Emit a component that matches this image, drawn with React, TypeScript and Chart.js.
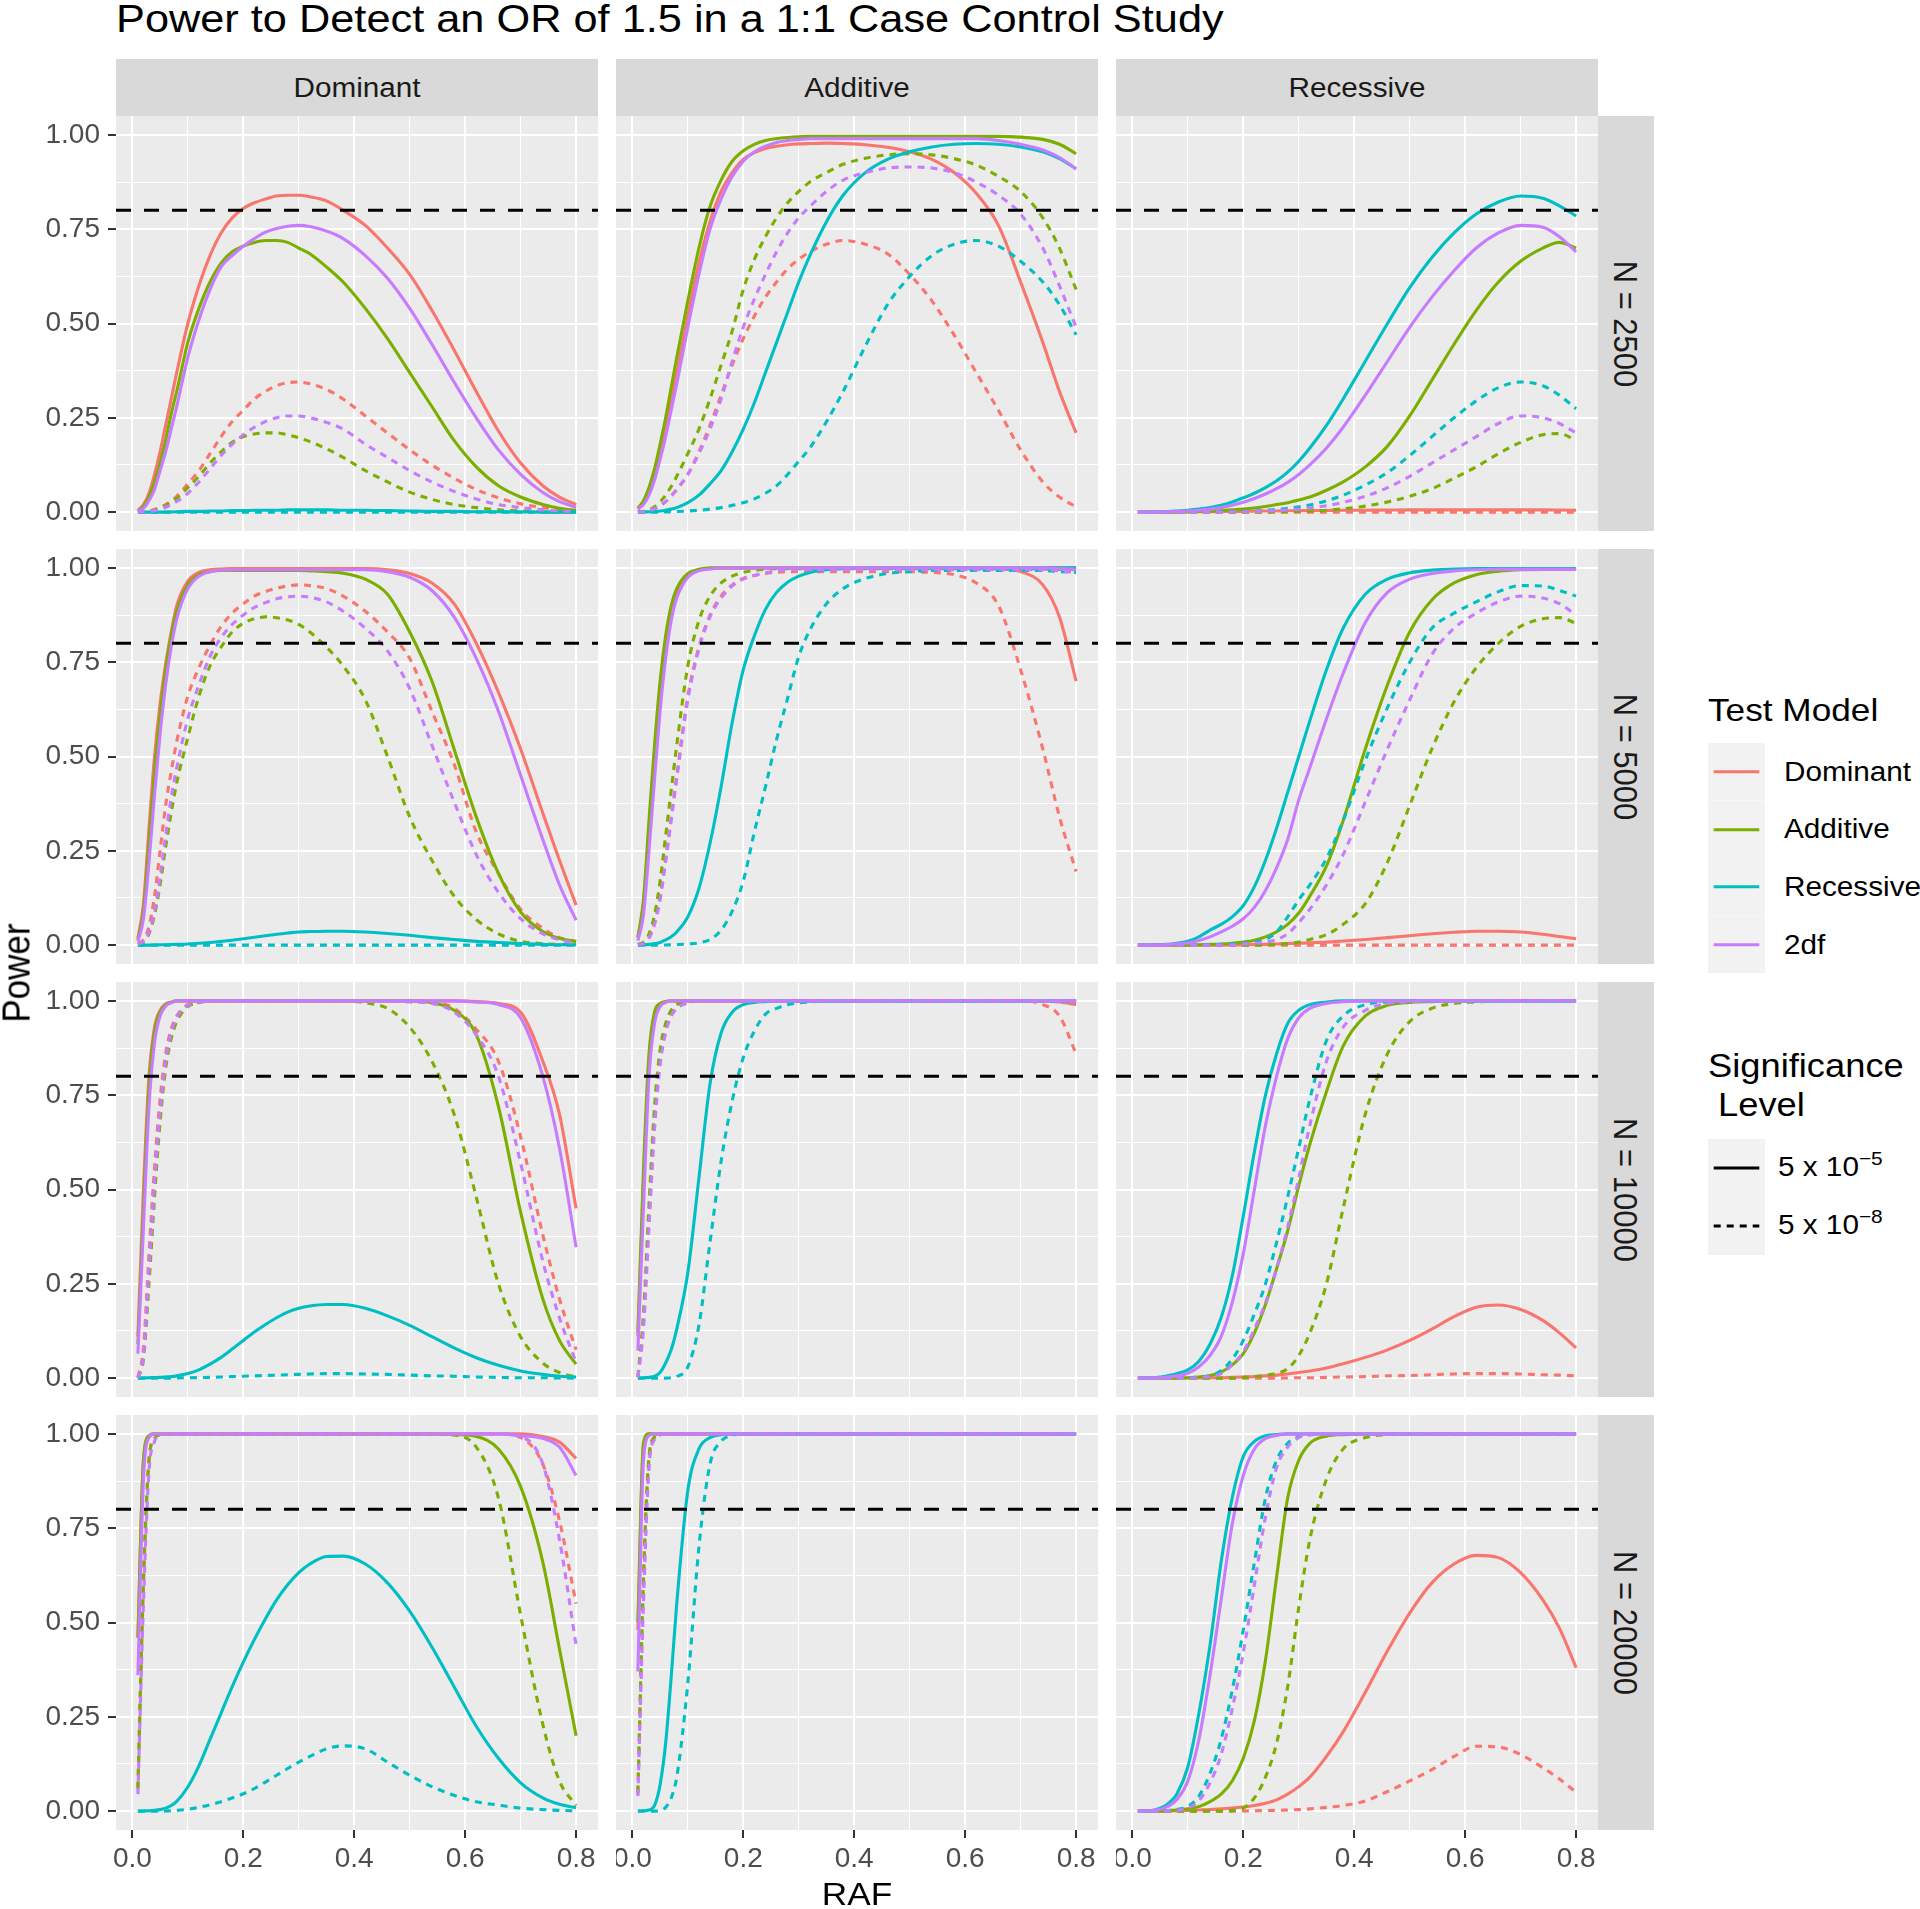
import React, { useEffect, useRef } from "react";
import { Chart, registerables } from "chart.js";

Chart.register(...registerables);

const FONT = "'Liberation Sans', Arial, Helvetica, sans-serif";

// ---------- categories / ticks ----------
const RAF = [0.01,0.02,0.03,0.04,0.05,0.06,0.07,0.08, 0.10,0.12,0.14,0.16,0.18,0.20,0.22,0.24,0.26,0.28,0.30,0.32, 0.35,0.38, 0.42,0.46,0.50,0.54,0.58,0.62,0.66,0.70,0.74, 0.77,0.80];
const TRUE_MODELS = ["Dominant", "Additive", "Recessive"];
const SAMPLE_SIZES = ["N = 2500", "N = 5000", "N = 10000", "N = 20000"];
const TEST_MODELS = ["Dominant", "Additive", "Recessive", "2df"];
const TEST_COLORS = ["#F8766D", "#7CAE00", "#00BFC4", "#C77CFF"];
const SIG_LEVELS = ["5e-5", "5e-8"];
const POWER_TARGET = 0.8;
const X_MAJOR = [0, 0.2, 0.4, 0.6, 0.8];
const X_MINOR = [0.1, 0.3, 0.5, 0.7];
const Y_MAJOR = [0, 0.25, 0.5, 0.75, 1];
const Y_MINOR = [0.125, 0.375, 0.625, 0.875];
const X_RANGE = [-0.0295, 0.8395];
const Y_RANGE = [-0.05, 1.05];

// ---------- N = 2500, true model Dominant ----------
const n2500_dom_domS = [0.005,0.02,0.05,0.10,0.16,0.23,0.30,0.37, 0.50,0.60,0.68,0.74,0.78,0.805,0.82,0.83,0.838,0.84,0.84,0.836, 0.825,0.80, 0.76,0.70,0.63,0.535,0.43,0.32,0.215,0.13,0.07, 0.04,0.02];
const n2500_dom_addS = [0.004,0.015,0.04,0.08,0.13,0.19,0.26,0.32, 0.45,0.54,0.61,0.66,0.69,0.705,0.715,0.72,0.72,0.715,0.70,0.685, 0.65,0.61, 0.54,0.46,0.37,0.28,0.19,0.12,0.07,0.04,0.02, 0.01,0.005];
const n2500_dom_recS = [0,0,0,0,0,0,0.0005,0.001, 0.002,0.002,0.003,0.003,0.004,0.004,0.005,0.005,0.005,0.006,0.006,0.006, 0.006,0.005, 0.005,0.004,0.003,0.002,0.002,0.001,0.001,0.0005,0, 0,0];
const n2500_dom_df2S = [0.003,0.01,0.03,0.06,0.11,0.16,0.22,0.28, 0.41,0.51,0.59,0.65,0.68,0.705,0.725,0.742,0.752,0.758,0.76,0.757, 0.745,0.725, 0.68,0.62,0.54,0.445,0.345,0.25,0.165,0.10,0.052, 0.028,0.013];
const n2500_dom_domD = [0,0.001,0.003,0.007,0.013,0.02,0.03,0.042, 0.075,0.11,0.155,0.20,0.24,0.27,0.30,0.32,0.335,0.343,0.345,0.34, 0.325,0.30, 0.255,0.21,0.165,0.125,0.09,0.06,0.038,0.022,0.012, 0.006,0.003];
const n2500_dom_addD = [0,0.001,0.003,0.006,0.011,0.018,0.027,0.037, 0.065,0.095,0.13,0.16,0.185,0.20,0.207,0.21,0.21,0.205,0.197,0.187, 0.168,0.145, 0.11,0.08,0.053,0.034,0.02,0.012,0.006,0.003,0.001, 0,0];
const n2500_dom_recD = [0,0,0,0,0,0,0,0, 0,0,0,0,0,0,0,0,0,0,0,0, 0,0, 0,0,0,0,0,0,0,0,0, 0,0];
const n2500_dom_df2D = [0,0.001,0.002,0.004,0.008,0.013,0.02,0.028, 0.05,0.08,0.115,0.15,0.18,0.205,0.225,0.24,0.25,0.255,0.255,0.25, 0.238,0.22, 0.18,0.145,0.11,0.08,0.055,0.035,0.02,0.012,0.006, 0.003,0.002];

// ---------- N = 2500, true model Additive ----------
const n2500_add_domS = [0.008,0.025,0.055,0.10,0.16,0.23,0.30,0.37, 0.52,0.66,0.77,0.85,0.90,0.935,0.953,0.964,0.97,0.974,0.976,0.977, 0.978,0.977, 0.974,0.967,0.955,0.935,0.90,0.845,0.76,0.61,0.45, 0.32,0.21];
const n2500_add_addS = [0.01,0.03,0.065,0.115,0.18,0.25,0.33,0.41, 0.56,0.70,0.81,0.88,0.93,0.958,0.975,0.985,0.99,0.993,0.995,0.996, 0.996,0.996, 0.996,0.996,0.996,0.996,0.996,0.996,0.996,0.994,0.988, 0.975,0.95];
const n2500_add_recS = [0,0.0005,0.001,0.002,0.003,0.005,0.008,0.012, 0.025,0.045,0.075,0.11,0.16,0.22,0.29,0.37,0.45,0.53,0.61,0.68, 0.77,0.84, 0.90,0.935,0.955,0.968,0.975,0.977,0.975,0.968,0.955, 0.937,0.91];
const n2500_add_df2S = [0.008,0.02,0.045,0.085,0.14,0.20,0.27,0.34, 0.49,0.63,0.75,0.83,0.89,0.93,0.955,0.97,0.98,0.985,0.988,0.99, 0.99,0.99, 0.99,0.99,0.99,0.99,0.99,0.99,0.985,0.975,0.96, 0.94,0.91];
const n2500_add_domD = [0,0.001,0.004,0.009,0.017,0.028,0.043,0.06, 0.10,0.16,0.23,0.31,0.39,0.46,0.52,0.57,0.61,0.645,0.67,0.69, 0.71,0.72, 0.71,0.685,0.63,0.56,0.47,0.37,0.27,0.165,0.08, 0.04,0.014];
const n2500_add_addD = [0,0.002,0.006,0.014,0.027,0.045,0.068,0.095, 0.155,0.22,0.30,0.39,0.48,0.59,0.67,0.73,0.78,0.82,0.85,0.875, 0.90,0.922, 0.938,0.947,0.95,0.947,0.937,0.92,0.89,0.85,0.78, 0.70,0.59];
const n2500_add_recD = [0,0,0,0,0,0.0005,0.001,0.0015, 0.003,0.005,0.008,0.012,0.018,0.025,0.035,0.05,0.07,0.10,0.135,0.17, 0.24,0.32, 0.44,0.55,0.625,0.68,0.71,0.72,0.705,0.665,0.61, 0.55,0.47];
const n2500_add_df2D = [0,0.001,0.004,0.009,0.017,0.028,0.042,0.06, 0.10,0.155,0.22,0.30,0.40,0.49,0.565,0.63,0.69,0.74,0.78,0.81, 0.85,0.88, 0.90,0.912,0.915,0.912,0.90,0.875,0.84,0.79,0.70, 0.60,0.49];

// ---------- N = 2500, true model Recessive ----------
const n2500_rec_domS = [0,0,0,0,0,0,0,0, 0.0005,0.001,0.001,0.0015,0.002,0.002,0.0025,0.003,0.003,0.0035,0.004,0.004, 0.0045,0.005, 0.005,0.0055,0.006,0.006,0.006,0.006,0.006,0.006,0.006, 0.0055,0.005];
const n2500_rec_addS = [0,0,0,0,0,0,0,0, 0.001,0.002,0.003,0.004,0.006,0.008,0.011,0.015,0.02,0.025,0.032,0.04, 0.058,0.08, 0.12,0.175,0.255,0.35,0.445,0.535,0.61,0.665,0.70, 0.715,0.70];
const n2500_rec_recS = [0,0,0,0.0005,0.001,0.0015,0.002,0.003, 0.005,0.008,0.012,0.018,0.027,0.038,0.05,0.065,0.083,0.106,0.135,0.17, 0.23,0.30, 0.40,0.50,0.595,0.675,0.74,0.79,0.822,0.838,0.832, 0.812,0.785];
const n2500_rec_df2S = [0,0,0,0,0.0005,0.001,0.0015,0.002, 0.003,0.005,0.008,0.012,0.018,0.026,0.036,0.048,0.062,0.079,0.10,0.125, 0.17,0.225, 0.31,0.40,0.49,0.57,0.64,0.70,0.74,0.76,0.755, 0.73,0.69];
const n2500_rec_domD = [0,0,0,0,0,0,0,0, 0,0,0,0,0,0,0,0,0,0,0,0, 0,0, 0,0,0,0,0,0,0,0,0, 0,0];
const n2500_rec_addD = [0,0,0,0,0,0,0,0, 0,0,0,0,0,0,0,0,0.001,0.001,0.002,0.003, 0.005,0.009, 0.016,0.027,0.042,0.062,0.09,0.12,0.155,0.185,0.205, 0.208,0.19];
const n2500_rec_recD = [0,0,0,0,0,0,0,0, 0,0,0,0.001,0.001,0.002,0.003,0.005,0.007,0.01,0.014,0.019, 0.03,0.045, 0.072,0.105,0.15,0.20,0.25,0.295,0.33,0.345,0.335, 0.31,0.274];
const n2500_rec_df2D = [0,0,0,0,0,0,0,0, 0,0,0,0,0.001,0.001,0.002,0.003,0.004,0.006,0.008,0.011, 0.017,0.026, 0.042,0.065,0.095,0.13,0.165,0.20,0.235,0.255,0.25, 0.235,0.21];

// ---------- N = 5000, true model Dominant ----------
const n5000_dom_domS = [0.018,0.11,0.31,0.50,0.64,0.745,0.83,0.90, 0.965,0.988,0.995,0.997,0.998,0.998,0.998,0.998,0.998,0.998,0.998,0.998, 0.998,0.998, 0.998,0.995,0.985,0.96,0.905,0.80,0.67,0.52,0.35, 0.225,0.106];
const n5000_dom_addS = [0.015,0.09,0.27,0.46,0.61,0.73,0.82,0.885, 0.955,0.982,0.99,0.993,0.993,0.993,0.993,0.993,0.993,0.993,0.993,0.992, 0.99,0.986, 0.97,0.93,0.83,0.70,0.52,0.34,0.19,0.088,0.036, 0.018,0.009];
const n5000_dom_recS = [0,0,0,0.0005,0.001,0.001,0.0015,0.002, 0.003,0.005,0.007,0.01,0.013,0.017,0.021,0.025,0.029,0.032,0.035,0.036, 0.037,0.037, 0.035,0.031,0.026,0.02,0.015,0.01,0.007,0.004,0.002, 0.001,0.001];
const n5000_dom_df2S = [0.01,0.07,0.22,0.40,0.56,0.69,0.79,0.865, 0.945,0.978,0.99,0.994,0.995,0.995,0.995,0.995,0.995,0.995,0.995,0.995, 0.995,0.995, 0.995,0.99,0.975,0.94,0.87,0.76,0.62,0.45,0.28, 0.16,0.066];
const n5000_dom_domD = [0.005,0.015,0.05,0.13,0.25,0.37,0.46,0.54, 0.66,0.735,0.795,0.845,0.88,0.905,0.925,0.937,0.946,0.952,0.955,0.953, 0.945,0.925, 0.885,0.83,0.76,0.62,0.48,0.30,0.19,0.095,0.045, 0.02,0.01];
const n5000_dom_addD = [0.002,0.008,0.03,0.08,0.16,0.26,0.35,0.43, 0.55,0.66,0.74,0.79,0.83,0.853,0.865,0.87,0.868,0.862,0.85,0.83, 0.79,0.74, 0.65,0.50,0.34,0.225,0.13,0.068,0.03,0.01,0.004, 0.002,0.001];
const n5000_dom_recD = [0,0,0,0,0,0,0,0, 0,0,0,0,0,0,0,0,0,0,0,0, 0,0, 0,0,0,0,0,0,0,0,0, 0,0];
const n5000_dom_df2D = [0.003,0.01,0.035,0.09,0.18,0.29,0.39,0.47, 0.60,0.69,0.765,0.815,0.85,0.875,0.895,0.908,0.918,0.923,0.925,0.922, 0.91,0.885, 0.84,0.78,0.68,0.53,0.38,0.24,0.14,0.07,0.03, 0.014,0.006];

// ---------- N = 5000, true model Additive ----------
const n5000_add_domS = [0.02,0.11,0.31,0.51,0.68,0.80,0.885,0.935, 0.98,0.994,0.998,1,1,1,1,1,1,1,1,1, 1,1, 1,1,1,1,1,1,0.997,0.99,0.955, 0.87,0.70];
const n5000_add_addS = [0.02,0.12,0.33,0.53,0.70,0.82,0.90,0.945, 0.985,0.996,1,1,1,1,1,1,1,1,1,1, 1,1, 1,1,1,1,1,1,1,1,1, 1,1];
const n5000_add_recS = [0,0.001,0.002,0.004,0.007,0.014,0.022,0.035, 0.075,0.15,0.27,0.42,0.59,0.73,0.82,0.89,0.935,0.962,0.978,0.988, 0.995,0.998, 1,1,1,1,1,1,1,1,1, 1,1];
const n5000_add_df2S = [0.012,0.08,0.25,0.44,0.62,0.76,0.86,0.92, 0.975,0.992,0.997,1,1,1,1,1,1,1,1,1, 1,1, 1,1,1,1,1,1,1,1,1, 0.998,0.996];
const n5000_add_domD = [0.001,0.005,0.02,0.06,0.13,0.23,0.34,0.45, 0.66,0.79,0.875,0.925,0.955,0.972,0.98,0.985,0.988,0.99,0.99,0.99, 0.99,0.99, 0.99,0.99,0.99,0.988,0.982,0.96,0.90,0.73,0.52, 0.34,0.195];
const n5000_add_addD = [0.002,0.008,0.03,0.08,0.17,0.29,0.41,0.53, 0.74,0.86,0.925,0.96,0.978,0.988,0.993,0.996,0.998,0.998,0.998,0.998, 0.998,0.998, 0.998,0.998,0.998,0.998,0.998,0.998,0.998,0.998,0.997, 0.996,0.995];
const n5000_add_recD = [0,0,0,0,0,0.0005,0.001,0.0015, 0.003,0.006,0.015,0.04,0.09,0.17,0.30,0.42,0.545,0.655,0.765,0.835, 0.905,0.945, 0.972,0.985,0.99,0.993,0.993,0.993,0.993,0.993,0.993, 0.99,0.988];
const n5000_add_df2D = [0.001,0.004,0.018,0.055,0.12,0.22,0.33,0.44, 0.65,0.785,0.87,0.92,0.952,0.97,0.98,0.987,0.99,0.995,0.995,0.995, 0.995,0.995, 0.995,0.995,0.995,0.995,0.995,0.995,0.995,0.995,0.995, 0.992,0.988];

// ---------- N = 5000, true model Recessive ----------
const n5000_rec_domS = [0,0,0,0,0,0,0,0, 0,0,0,0,0.0005,0.001,0.0015,0.002,0.003,0.004,0.005,0.006, 0.008,0.011, 0.015,0.02,0.025,0.03,0.034,0.037,0.037,0.035,0.029, 0.023,0.017];
const n5000_rec_addS = [0,0,0,0,0,0,0,0, 0,0.001,0.002,0.003,0.005,0.008,0.013,0.022,0.035,0.055,0.085,0.13, 0.21,0.33, 0.52,0.69,0.83,0.915,0.96,0.982,0.991,0.995,0.996, 0.996,0.996];
const n5000_rec_recS = [0,0,0,0.0005,0.001,0.002,0.003,0.005, 0.01,0.022,0.04,0.055,0.075,0.105,0.155,0.225,0.31,0.405,0.50,0.595, 0.73,0.84, 0.93,0.97,0.987,0.994,0.997,0.998,0.998,0.998,0.998, 0.998,0.998];
const n5000_rec_df2S = [0,0,0,0,0,0.001,0.002,0.003, 0.006,0.012,0.022,0.035,0.05,0.07,0.10,0.145,0.205,0.28,0.385,0.47, 0.60,0.72, 0.855,0.935,0.97,0.985,0.992,0.995,0.996,0.996,0.996, 0.996,0.996];
const n5000_rec_domD = [0,0,0,0,0,0,0,0, 0,0,0,0,0,0,0,0,0,0,0,0, 0,0, 0,0,0,0,0,0,0,0,0, 0,0];
const n5000_rec_addD = [0,0,0,0,0,0,0,0, 0,0,0,0,0,0,0,0.001,0.002,0.004,0.008,0.015, 0.028,0.055, 0.11,0.22,0.37,0.52,0.645,0.735,0.80,0.845,0.865, 0.868,0.853];
const n5000_rec_recD = [0,0,0,0,0,0,0,0, 0,0.0005,0.001,0.002,0.003,0.005,0.008,0.015,0.035,0.075,0.12,0.16, 0.23,0.33, 0.49,0.63,0.75,0.84,0.88,0.91,0.937,0.953,0.952, 0.94,0.925];
const n5000_rec_df2D = [0,0,0,0,0,0,0,0, 0,0,0,0,0,0.003,0.005,0.008,0.015,0.03,0.06,0.095, 0.16,0.24, 0.38,0.52,0.65,0.77,0.84,0.88,0.91,0.925,0.92, 0.905,0.875];

// ---------- N = 10000, true model Dominant ----------
const n10000_dom_domS = [0.11,0.50,0.80,0.93,0.975,0.992,0.997,1, 1,1,1,1,1,1,1,1,1,1,1,1, 1,1, 1,1,1,1,1,0.998,0.993,0.97,0.84, 0.70,0.45];
const n10000_dom_addS = [0.09,0.45,0.77,0.92,0.97,0.99,0.996,1, 1,1,1,1,1,1,1,1,1,1,1,1, 1,1, 1,1,1,0.995,0.975,0.91,0.72,0.44,0.21, 0.10,0.037];
const n10000_dom_recS = [0,0.0005,0.001,0.0015,0.002,0.003,0.004,0.006, 0.012,0.022,0.037,0.055,0.077,0.10,0.122,0.142,0.16,0.175,0.185,0.191, 0.195,0.195, 0.185,0.165,0.14,0.11,0.08,0.054,0.034,0.019,0.01, 0.005,0.003];
const n10000_dom_df2S = [0.065,0.40,0.72,0.89,0.96,0.986,0.995,1, 1,1,1,1,1,1,1,1,1,1,1,1, 1,1, 1,1,1,1,1,0.997,0.99,0.955,0.80, 0.61,0.347];
const n10000_dom_domD = [0.002,0.08,0.33,0.56,0.74,0.86,0.925,0.96, 0.99,0.997,1,1,1,1,1,1,1,1,1,1, 1,1, 1,1,1,0.997,0.98,0.925,0.84,0.64,0.38, 0.21,0.075];
const n10000_dom_addD = [0.001,0.05,0.25,0.48,0.68,0.82,0.90,0.945, 0.985,0.995,1,1,1,1,1,1,1,1,1,1, 1,1, 0.995,0.98,0.93,0.84,0.70,0.48,0.25,0.11,0.04, 0.015,0.003];
const n10000_dom_recD = [0,0,0,0,0,0,0,0.0005, 0.001,0.0015,0.002,0.003,0.004,0.005,0.006,0.007,0.008,0.009,0.01,0.011, 0.012,0.012, 0.011,0.01,0.008,0.006,0.005,0.003,0.002,0.001,0.001, 0.0005,0];
const n10000_dom_df2D = [0.001,0.06,0.29,0.52,0.71,0.84,0.915,0.955, 0.988,0.996,1,1,1,1,1,1,1,1,1,1, 1,1, 1,1,0.997,0.993,0.97,0.91,0.80,0.57,0.31, 0.16,0.042];

// ---------- N = 10000, true model Additive ----------
const n10000_add_domS = [0.11,0.52,0.84,0.96,0.99,0.997,1,1, 1,1,1,1,1,1,1,1,1,1,1,1, 1,1, 1,1,1,1,1,1,1,1,1, 0.997,0.99];
const n10000_add_addS = [0.12,0.55,0.86,0.97,0.993,0.998,1,1, 1,1,1,1,1,1,1,1,1,1,1,1, 1,1, 1,1,1,1,1,1,1,1,1, 1,1];
const n10000_add_recS = [0,0.001,0.002,0.005,0.015,0.04,0.075,0.13, 0.28,0.53,0.78,0.915,0.97,0.99,0.996,0.998,1,1,1,1, 1,1, 1,1,1,1,1,1,1,1,1, 1,1];
const n10000_add_df2S = [0.073,0.45,0.80,0.94,0.985,0.996,1,1, 1,1,1,1,1,1,1,1,1,1,1,1, 1,1, 1,1,1,1,1,1,1,1,1, 1,1];
const n10000_add_domD = [0.002,0.15,0.42,0.68,0.84,0.92,0.96,0.98, 0.995,1,1,1,1,1,1,1,1,1,1,1, 1,1, 1,1,1,1,1,1,1,1,0.99, 0.96,0.86];
const n10000_add_addD = [0.003,0.17,0.46,0.72,0.87,0.94,0.975,0.99, 0.997,1,1,1,1,1,1,1,1,1,1,1, 1,1, 1,1,1,1,1,1,1,1,1, 1,1];
const n10000_add_recD = [0,0,0,0,0,0,0.001,0.004, 0.03,0.14,0.36,0.575,0.735,0.85,0.92,0.965,0.98,0.99,0.995,0.997, 1,1, 1,1,1,1,1,1,1,1,1, 1,1];
const n10000_add_df2D = [0.002,0.13,0.40,0.66,0.83,0.915,0.96,0.98, 0.995,1,1,1,1,1,1,1,1,1,1,1, 1,1, 1,1,1,1,1,1,1,1,1, 1,1];

// ---------- N = 10000, true model Recessive ----------
const n10000_rec_domS = [0,0,0,0,0,0,0,0, 0.0005,0.0005,0.001,0.001,0.002,0.003,0.004,0.006,0.008,0.011,0.015,0.019, 0.027,0.038, 0.055,0.075,0.10,0.13,0.163,0.188,0.194,0.182,0.153, 0.12,0.08];
const n10000_rec_addS = [0,0,0,0,0,0,0,0, 0.001,0.003,0.007,0.016,0.035,0.065,0.12,0.195,0.29,0.39,0.51,0.62, 0.76,0.88, 0.96,0.988,0.996,0.998,1,1,1,1,1, 1,1];
const n10000_rec_recS = [0,0,0,0.001,0.003,0.005,0.008,0.012, 0.022,0.045,0.09,0.16,0.27,0.43,0.60,0.75,0.86,0.94,0.975,0.99, 0.997,1, 1,1,1,1,1,1,1,1,1, 1,1];
const n10000_rec_df2S = [0,0,0,0,0.001,0.002,0.004,0.006, 0.013,0.03,0.06,0.11,0.20,0.33,0.50,0.67,0.80,0.90,0.955,0.98, 0.993,0.998, 1,1,1,1,1,1,1,1,1, 1,1];
const n10000_rec_domD = [0,0,0,0,0,0,0,0, 0,0,0,0,0,0,0,0,0,0.0005,0.001,0.001, 0.002,0.003, 0.004,0.006,0.007,0.009,0.011,0.012,0.012,0.011,0.009, 0.008,0.006];
const n10000_rec_addD = [0,0,0,0,0,0,0,0, 0,0,0,0,0,0.002,0.004,0.008,0.013,0.025,0.06,0.12, 0.25,0.45, 0.70,0.86,0.945,0.98,0.993,0.997,1,1,1, 1,1];
const n10000_rec_recD = [0,0,0,0,0,0,0,0.0005, 0.001,0.003,0.006,0.02,0.05,0.10,0.17,0.25,0.36,0.48,0.61,0.74, 0.895,0.96, 0.99,0.997,1,1,1,1,1,1,1, 1,1];
const n10000_rec_df2D = [0,0,0,0,0,0,0,0, 0,0.002,0.004,0.012,0.035,0.07,0.13,0.20,0.29,0.40,0.53,0.67, 0.84,0.93, 0.975,0.993,0.998,1,1,1,1,1,1, 1,1];

// ---------- N = 20000, true model Dominant ----------
const n20000_dom_domS = [0.46,0.93,0.995,1,1,1,1,1, 1,1,1,1,1,1,1,1,1,1,1,1, 1,1, 1,1,1,1,1,1,1,1,0.993, 0.978,0.935];
const n20000_dom_addS = [0.46,0.93,0.995,1,1,1,1,1, 1,1,1,1,1,1,1,1,1,1,1,1, 1,1, 1,1,1,1,0.998,0.993,0.96,0.86,0.66, 0.43,0.20];
const n20000_dom_recS = [0,0.0005,0.001,0.002,0.004,0.008,0.015,0.026, 0.064,0.12,0.19,0.26,0.33,0.395,0.455,0.51,0.56,0.60,0.632,0.655, 0.675,0.676, 0.655,0.605,0.53,0.435,0.33,0.225,0.14,0.075,0.035, 0.018,0.009];
const n20000_dom_df2S = [0.36,0.88,0.99,1,1,1,1,1, 1,1,1,1,1,1,1,1,1,1,1,1, 1,1, 1,1,1,1,1,1,1,0.995,0.988, 0.965,0.89];
const n20000_dom_domD = [0.06,0.60,0.93,0.988,0.998,1,1,1, 1,1,1,1,1,1,1,1,1,1,1,1, 1,1, 1,1,1,1,1,1,1,0.99,0.92, 0.77,0.55];
const n20000_dom_addD = [0.06,0.62,0.93,0.988,0.998,1,1,1, 1,1,1,1,1,1,1,1,1,1,1,1, 1,1, 1,1,1,1,0.997,0.965,0.83,0.52,0.23, 0.08,0.015];
const n20000_dom_recD = [0,0,0,0,0,0.0005,0.001,0.002, 0.005,0.01,0.017,0.025,0.035,0.046,0.06,0.077,0.095,0.113,0.13,0.145, 0.165,0.173, 0.165,0.13,0.095,0.065,0.042,0.025,0.016,0.008,0.004, 0.002,0.001];
const n20000_dom_df2D = [0.045,0.55,0.90,0.98,0.996,1,1,1, 1,1,1,1,1,1,1,1,1,1,1,1, 1,1, 1,1,1,1,1,1,1,0.993,0.92, 0.72,0.44];

// ---------- N = 20000, true model Additive ----------
const n20000_add_domS = [0.48,0.97,1,1,1,1,1,1, 1,1,1,1,1,1,1,1,1,1,1,1, 1,1, 1,1,1,1,1,1,1,1,1, 1,1];
const n20000_add_addS = [0.50,0.975,1,1,1,1,1,1, 1,1,1,1,1,1,1,1,1,1,1,1, 1,1, 1,1,1,1,1,1,1,1,1, 1,1];
const n20000_add_recS = [0,0.001,0.003,0.015,0.07,0.18,0.355,0.55, 0.85,0.96,0.99,0.998,1,1,1,1,1,1,1,1, 1,1, 1,1,1,1,1,1,1,1,1, 1,1];
const n20000_add_df2S = [0.37,0.93,0.995,1,1,1,1,1, 1,1,1,1,1,1,1,1,1,1,1,1, 1,1, 1,1,1,1,1,1,1,1,1, 1,1];
const n20000_add_domD = [0.046,0.60,0.93,0.99,0.998,1,1,1, 1,1,1,1,1,1,1,1,1,1,1,1, 1,1, 1,1,1,1,1,1,1,1,1, 1,1];
const n20000_add_addD = [0.05,0.62,0.94,0.992,1,1,1,1, 1,1,1,1,1,1,1,1,1,1,1,1, 1,1, 1,1,1,1,1,1,1,1,1, 1,1];
const n20000_add_recD = [0,0,0,0,0.001,0.01,0.035,0.09, 0.34,0.70,0.92,0.98,0.996,1,1,1,1,1,1,1, 1,1, 1,1,1,1,1,1,1,1,1, 1,1];
const n20000_add_df2D = [0.04,0.55,0.91,0.985,0.997,1,1,1, 1,1,1,1,1,1,1,1,1,1,1,1, 1,1, 1,1,1,1,1,1,1,1,1, 1,1];

// ---------- N = 20000, true model Recessive ----------
const n20000_rec_domS = [0,0,0,0,0,0,0.0005,0.001, 0.002,0.003,0.004,0.006,0.008,0.011,0.015,0.021,0.03,0.045,0.065,0.09, 0.145,0.21, 0.315,0.425,0.525,0.605,0.655,0.678,0.672,0.632,0.56, 0.485,0.38];
const n20000_rec_addS = [0,0,0,0,0,0.001,0.002,0.003, 0.006,0.012,0.025,0.045,0.08,0.14,0.24,0.40,0.62,0.83,0.93,0.975, 0.994,0.998, 1,1,1,1,1,1,1,1,1, 1,1];
const n20000_rec_recS = [0,0,0.001,0.003,0.008,0.015,0.027,0.045, 0.117,0.26,0.44,0.66,0.83,0.94,0.98,0.995,0.998,1,1,1, 1,1, 1,1,1,1,1,1,1,1,1, 1,1];
const n20000_rec_df2S = [0,0,0.0005,0.002,0.005,0.01,0.018,0.03, 0.08,0.19,0.36,0.56,0.76,0.89,0.96,0.988,0.996,1,1,1, 1,1, 1,1,1,1,1,1,1,1,1, 1,1];
const n20000_rec_domD = [0,0,0,0,0,0,0,0, 0,0,0,0,0,0.0005,0.001,0.0015,0.002,0.003,0.004,0.006, 0.01,0.015, 0.027,0.052,0.08,0.11,0.145,0.172,0.17,0.15,0.115, 0.085,0.05];
const n20000_rec_addD = [0,0,0,0,0,0,0,0, 0,0,0,0,0.002,0.008,0.035,0.09,0.18,0.33,0.54,0.72, 0.88,0.96, 0.99,0.998,1,1,1,1,1,1,1, 1,1];
const n20000_rec_recD = [0,0,0,0,0,0.001,0.002,0.004, 0.012,0.04,0.10,0.19,0.32,0.48,0.66,0.83,0.93,0.975,0.993,0.998, 1,1, 1,1,1,1,1,1,1,1,1, 1,1];
const n20000_rec_df2D = [0,0,0,0,0,0.0005,0.001,0.002, 0.008,0.028,0.075,0.15,0.27,0.42,0.60,0.78,0.91,0.965,0.99,0.997, 1,1, 1,1,1,1,1,1,1,1,1, 1,1];

// panel table: [row = sample size][col = true model] -> [significance][test model]
const PANELS = [
  [
    [[n2500_dom_domS, n2500_dom_addS, n2500_dom_recS, n2500_dom_df2S], [n2500_dom_domD, n2500_dom_addD, n2500_dom_recD, n2500_dom_df2D]],
    [[n2500_add_domS, n2500_add_addS, n2500_add_recS, n2500_add_df2S], [n2500_add_domD, n2500_add_addD, n2500_add_recD, n2500_add_df2D]],
    [[n2500_rec_domS, n2500_rec_addS, n2500_rec_recS, n2500_rec_df2S], [n2500_rec_domD, n2500_rec_addD, n2500_rec_recD, n2500_rec_df2D]],
  ],
  [
    [[n5000_dom_domS, n5000_dom_addS, n5000_dom_recS, n5000_dom_df2S], [n5000_dom_domD, n5000_dom_addD, n5000_dom_recD, n5000_dom_df2D]],
    [[n5000_add_domS, n5000_add_addS, n5000_add_recS, n5000_add_df2S], [n5000_add_domD, n5000_add_addD, n5000_add_recD, n5000_add_df2D]],
    [[n5000_rec_domS, n5000_rec_addS, n5000_rec_recS, n5000_rec_df2S], [n5000_rec_domD, n5000_rec_addD, n5000_rec_recD, n5000_rec_df2D]],
  ],
  [
    [[n10000_dom_domS, n10000_dom_addS, n10000_dom_recS, n10000_dom_df2S], [n10000_dom_domD, n10000_dom_addD, n10000_dom_recD, n10000_dom_df2D]],
    [[n10000_add_domS, n10000_add_addS, n10000_add_recS, n10000_add_df2S], [n10000_add_domD, n10000_add_addD, n10000_add_recD, n10000_add_df2D]],
    [[n10000_rec_domS, n10000_rec_addS, n10000_rec_recS, n10000_rec_df2S], [n10000_rec_domD, n10000_rec_addD, n10000_rec_recD, n10000_rec_df2D]],
  ],
  [
    [[n20000_dom_domS, n20000_dom_addS, n20000_dom_recS, n20000_dom_df2S], [n20000_dom_domD, n20000_dom_addD, n20000_dom_recD, n20000_dom_df2D]],
    [[n20000_add_domS, n20000_add_addS, n20000_add_recS, n20000_add_df2S], [n20000_add_domD, n20000_add_addD, n20000_add_recD, n20000_add_df2D]],
    [[n20000_rec_domS, n20000_rec_addS, n20000_rec_recS, n20000_rec_df2S], [n20000_rec_domD, n20000_rec_addD, n20000_rec_recD, n20000_rec_df2D]],
  ],
];

// ---------- layout ----------
const PANEL_LEFTS = [116, 616, 1116];
const PANEL_TOPS = [116, 549, 982, 1415];
const PANEL_W = 482;
const PANEL_H = 415;
const STRIP_TOP = 59;
const STRIP_H = 57;
const RSTRIP_W = 56;
const Y_AXIS_W = 100;
const X_AXIS_H = 50;
const STRETCH = 1.1;
const LINE_W = 3.1;
const DASH_SERIES = [7, 6];
const DASH_REF = [15, 13];
const TICK_FONT = 28;

const near = (a: number, b: number) => Math.abs(a - b) < 1e-9;
const isMajorX = (v: number) => X_MAJOR.some((t) => near(t, v));
const isMajorY = (v: number) => Y_MAJOR.some((t) => near(t, v));

const bgPlugin = {
  id: "panelBg",
  beforeDraw(chart: any) {
    const { ctx, chartArea: a } = chart;
    ctx.save();
    ctx.fillStyle = "#EBEBEB";
    ctx.fillRect(a.left, a.top, a.right - a.left, a.bottom - a.top);
    ctx.restore();
  },
};

function zeroPadding(s: any) {
  s.paddingLeft = 0;
  s.paddingRight = 0;
  s.paddingTop = 0;
  s.paddingBottom = 0;
}

function Panel({ row, col }: { row: number; col: number }) {
  const ref = useRef<HTMLCanvasElement | null>(null);
  const isLeft = col === 0;
  const isBottom = row === SAMPLE_SIZES.length - 1;
  const padL = isLeft ? Y_AXIS_W : 0;
  const padB = isBottom ? X_AXIS_H : 0;
  const w = PANEL_W + padL;
  const h = PANEL_H + padB;

  useEffect(() => {
    const canvas = ref.current;
    if (!canvas) return;
    const series = PANELS[row][col];
    const datasets: any[] = [
      {
        label: "target",
        data: [
          { x: X_RANGE[0], y: POWER_TARGET },
          { x: X_RANGE[1], y: POWER_TARGET },
        ],
        borderColor: "#000000",
        borderWidth: 3,
        borderDash: DASH_REF,
        pointRadius: 0,
        fill: false,
      },
    ];
    for (let m = TEST_MODELS.length - 1; m >= 0; m--) {
      for (let s = SIG_LEVELS.length - 1; s >= 0; s--) {
        const vals = series[s][m];
        datasets.push({
          label: TEST_MODELS[m] + " " + SIG_LEVELS[s],
          data: RAF.map((x, i) => ({ x, y: vals[i] })),
          borderColor: TEST_COLORS[m],
          borderWidth: LINE_W,
          borderDash: s === 1 ? DASH_SERIES : [],
          borderJoinStyle: "round",
          borderCapStyle: "butt",
          cubicInterpolationMode: "monotone",
          pointRadius: 0,
          fill: false,
        });
      }
    }
    const gridW = (major: boolean) => (major ? 2 : 1);
    const chart = new Chart(canvas, {
      type: "line",
      data: { datasets },
      plugins: [bgPlugin],
      options: {
        animation: false,
        responsive: false,
        maintainAspectRatio: false,
        events: [],
        layout: { padding: 0 },
        plugins: { legend: { display: false }, tooltip: { enabled: false } },
        scales: {
          x: {
            type: "linear",
            min: X_RANGE[0],
            max: X_RANGE[1],
            afterBuildTicks: (s: any) => {
              s.ticks = [...X_MAJOR, ...X_MINOR].sort((a, b) => a - b).map((v) => ({ value: v }));
            },
            afterFit: (s: any) => {
              s.height = padB;
              zeroPadding(s);
            },
            border: { display: false },
            grid: {
              color: "#FFFFFF",
              lineWidth: (c: any) => gridW(c.tick ? isMajorX(c.tick.value) : true),
              drawTicks: isBottom,
              tickLength: 8,
              tickWidth: 2,
              tickColor: (c: any) => (c.tick && isMajorX(c.tick.value) ? "#333333" : "rgba(0,0,0,0)"),
            },
            ticks: {
              display: isBottom,
              autoSkip: false,
              maxRotation: 0,
              minRotation: 0,
              padding: 4,
              color: "#4D4D4D",
              font: { family: FONT, size: TICK_FONT },
              callback: (v: any) => (isMajorX(Number(v)) ? Number(v).toFixed(1) : ""),
            },
          },
          y: {
            type: "linear",
            min: Y_RANGE[0],
            max: Y_RANGE[1],
            afterBuildTicks: (s: any) => {
              s.ticks = [...Y_MAJOR, ...Y_MINOR].sort((a, b) => a - b).map((v) => ({ value: v }));
            },
            afterFit: (s: any) => {
              s.width = padL;
              zeroPadding(s);
            },
            border: { display: false },
            grid: {
              color: "#FFFFFF",
              lineWidth: (c: any) => gridW(c.tick ? isMajorY(c.tick.value) : true),
              drawTicks: isLeft,
              tickLength: 8,
              tickWidth: 2,
              tickColor: (c: any) => (c.tick && isMajorY(c.tick.value) ? "#333333" : "rgba(0,0,0,0)"),
            },
            ticks: {
              display: isLeft,
              autoSkip: false,
              padding: 8,
              color: "#4D4D4D",
              font: { family: FONT, size: TICK_FONT },
              callback: (v: any) => (isMajorY(Number(v)) ? Number(v).toFixed(2) : ""),
            },
          },
        },
      } as any,
    } as any);
    return () => chart.destroy();
  }, [row, col, padB, padL, isBottom, isLeft]);

  return (
    <canvas
      ref={ref}
      width={w}
      height={h}
      style={{
        position: "absolute",
        left: PANEL_LEFTS[col] - padL,
        top: PANEL_TOPS[row],
        width: w,
        height: h,
      }}
    />
  );
}

function Label({
  x,
  y,
  size,
  children,
  align = "center",
  rotate = 0,
  color = "#000000",
  stretch = STRETCH,
}: any) {
  const tr: string[] = [align === "center" ? "translate(-50%,-50%)" : "translate(0,-50%)"];
  if (stretch !== 1) tr.push(`scaleX(${stretch})`);
  if (rotate) tr.push(`rotate(${rotate}deg)`);
  return (
    <div
      style={{
        position: "absolute",
        left: x,
        top: y,
        transform: tr.join(" "),
        transformOrigin: align === "center" ? "50% 50%" : "0 50%",
        fontSize: size,
        lineHeight: `${size}px`,
        whiteSpace: "pre",
        color,
        fontFamily: FONT,
      }}
    >
      {children}
    </div>
  );
}

function KeyLine({ left, top, w, h, color, dash }: any) {
  return (
    <svg style={{ position: "absolute", left, top }} width={w} height={h}>
      <rect x={0} y={0} width={w} height={h} fill="#F2F2F2" />
      <line
        x1={w * 0.1}
        x2={w * 0.9}
        y1={h / 2}
        y2={h / 2}
        stroke={color}
        strokeWidth={LINE_W}
        strokeDasharray={dash ? dash.join(" ") : undefined}
      />
    </svg>
  );
}

const LEG_X = 1708;
const KEY_W = 57;
const KEY_H = 57.6;
const LEG1_TOP = 743;
const LEG2_TOP = 1139;

export default function App() {
  const panels: any[] = [];
  for (let r = 0; r < SAMPLE_SIZES.length; r++)
    for (let c = 0; c < TRUE_MODELS.length; c++) panels.push(<Panel key={`${r}-${c}`} row={r} col={c} />);

  const lastCol = TRUE_MODELS.length - 1;
  const stripRight = PANEL_LEFTS[lastCol] + PANEL_W;
  const panelsMidX = (PANEL_LEFTS[0] + stripRight) / 2;
  const panelsMidY = (PANEL_TOPS[0] + PANEL_TOPS[PANEL_TOPS.length - 1] + PANEL_H) / 2;

  return (
    <div
      style={{
        position: "absolute",
        left: 0,
        top: 0,
        width: 1920,
        height: 1909,
        background: "#FFFFFF",
        overflow: "hidden",
        fontFamily: FONT,
      }}
    >
      <Label x={PANEL_LEFTS[0]} y={19} size={38} align="left" stretch={1.14}>
        Power to Detect an OR of 1.5 in a 1:1 Case Control Study
      </Label>

      {TRUE_MODELS.map((m, c) => (
        <div
          key={m}
          style={{
            position: "absolute",
            left: PANEL_LEFTS[c],
            top: STRIP_TOP,
            width: PANEL_W,
            height: STRIP_H,
            background: "#D9D9D9",
          }}
        />
      ))}
      {TRUE_MODELS.map((m, c) => (
        <Label key={m + "t"} x={PANEL_LEFTS[c] + PANEL_W / 2} y={STRIP_TOP + STRIP_H / 2} size={27} color="#1A1A1A">
          {m}
        </Label>
      ))}

      {SAMPLE_SIZES.map((n, r) => (
        <div
          key={n}
          style={{
            position: "absolute",
            left: stripRight,
            top: PANEL_TOPS[r],
            width: RSTRIP_W,
            height: PANEL_H,
            background: "#D9D9D9",
          }}
        />
      ))}
      {SAMPLE_SIZES.map((n, r) => (
        <Label
          key={n + "t"}
          x={stripRight + RSTRIP_W / 2}
          y={PANEL_TOPS[r] + PANEL_H / 2}
          size={31}
          rotate={90}
          color="#1A1A1A"
        >
          {n}
        </Label>
      ))}

      {panels}

      <Label x={panelsMidX} y={1894} size={32}>
        RAF
      </Label>
      <Label x={16} y={panelsMidY} size={35} rotate={-90}>
        Power
      </Label>

      {/* legend: test model */}
      <Label x={LEG_X} y={710} size={32} align="left">
        Test Model
      </Label>
      {TEST_MODELS.map((m, i) => (
        <KeyLine key={m} left={LEG_X} top={LEG1_TOP + i * KEY_H} w={KEY_W} h={KEY_H} color={TEST_COLORS[i]} />
      ))}
      {TEST_MODELS.map((m, i) => (
        <Label key={m + "l"} x={1784} y={LEG1_TOP + i * KEY_H + KEY_H / 2} size={27} align="left">
          {m}
        </Label>
      ))}

      {/* legend: significance level */}
      <Label x={LEG_X} y={1065} size={33} align="left">
        Significance
      </Label>
      <Label x={LEG_X} y={1104} size={33} align="left">
        {" Level"}
      </Label>
      {SIG_LEVELS.map((s, i) => (
        <KeyLine
          key={s}
          left={LEG_X}
          top={LEG2_TOP + i * 58}
          w={KEY_W}
          h={58}
          color="#000000"
          dash={i === 1 ? DASH_SERIES : null}
        />
      ))}
      {SIG_LEVELS.map((s, i) => (
        <Label key={s + "l"} x={1778} y={LEG2_TOP + i * 58 + 29} size={27} align="left">
          <span>5 x 10</span>
          <span style={{ fontSize: 19, position: "relative", top: -11 }}>{i === 0 ? "\u22125" : "\u22128"}</span>
        </Label>
      ))}
    </div>
  );
}
